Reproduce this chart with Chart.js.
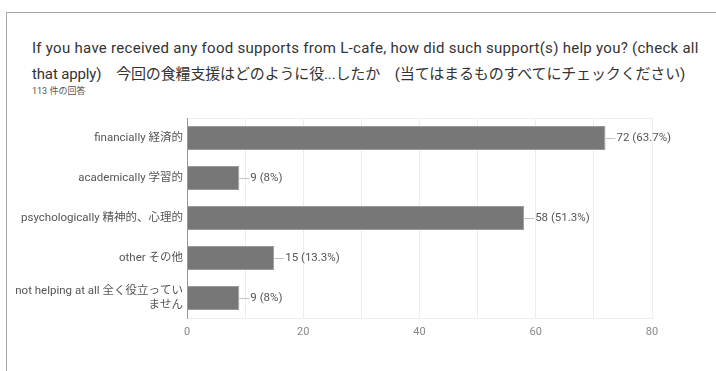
<!DOCTYPE html>
<html>
<head>
<meta charset="utf-8">
<script src="https://cdn.jsdelivr.net/npm/chart.js@4"></script>
<style>
  body { margin: 0; background: #fff; font-family: Roboto, "Noto Sans CJK JP", sans-serif; }
  #wrap { position: relative; width: 716px; height: 371px; overflow: hidden; }
  #box { position: absolute; left: 6px; top: 12px; width: 760px; height: 420px; border: 1px solid #a8a8a8; }
  .title { position: absolute; left: 32px; font-size: 15px; color: #333; white-space: nowrap; }
  #sub { position: absolute; left: 32px; top: 84px; font-size: 9px; color: #555; }
  canvas { position: absolute; left: 0; top: 0; }
</style>
</head>
<body>
<div id="wrap">
  <div id="box"></div>
  <div class="title" style="top:39px; letter-spacing:0.28px">If you have received any food supports from L-cafe, how did such support(s) help you? (check all</div>
  <div class="title" style="top:62px; letter-spacing:-0.15px">that apply)　今回の食糧支援はどのように役...したか　(当てはまるものすべてにチェックください)</div>
  <div id="sub">113 件の回答</div>
  <canvas id="chart" width="716" height="371"></canvas>
</div>
<script>
// categories and answers
const categories = [
  "financially 経済的",
  "academically 学習的",
  "psychologically 精神的、心理的",
  "other その他",
  ["not helping at all 全く役立ってい", "ません"],
];
const counts = [72, 9, 58, 15, 9];
const percents = ["63.7%", "8%", "51.3%", "13.3%", "8%"];
const xTicks = [0, 20, 40, 60, 80];

// draws "—72 (63.7%)" after each bar
const valueLabels = {
  id: "valueLabels",
  afterDatasetsDraw(chart) {
    const ctx = chart.ctx;
    const meta = chart.getDatasetMeta(0);
    ctx.save();
    ctx.font = "11.5px Roboto, sans-serif";
    ctx.textBaseline = "middle";
    meta.data.forEach((bar, i) => {
      ctx.strokeStyle = "#c4c4c4";
      ctx.lineWidth = 1;
      ctx.beginPath();
      ctx.moveTo(bar.x, Math.round(bar.y) + 0.5);
      ctx.lineTo(bar.x + 10, Math.round(bar.y) + 0.5);
      ctx.stroke();
      ctx.fillStyle = "#555";
      ctx.fillText(counts[i] + " (" + percents[i] + ")", bar.x + 11, bar.y);
    });
    ctx.restore();
  },
};

const ctx = document.getElementById("chart").getContext("2d");
new Chart(ctx, {
  type: "bar",
  data: {
    labels: categories,
    datasets: [
      {
        data: counts,
        backgroundColor: "#777777",
        borderColor: "#9a9a9a",
        borderWidth: 1,
        borderSkipped: "left",
        barPercentage: 0.6,
        categoryPercentage: 1,
      },
    ],
  },
  options: {
    indexAxis: "y",
    responsive: false,
    animation: false,
    layout: { padding: { top: 118, right: 64, bottom: 0, left: 0 } },
    plugins: { legend: { display: false }, tooltip: { enabled: false } },
    scales: {
      x: {
        min: xTicks[0],
        max: xTicks[xTicks.length - 1],
        ticks: {
          stepSize: 10,
          callback: (v) => (xTicks.includes(v) ? v : ""),
          color: "#888",
          font: { size: 11, family: "Roboto" },
          padding: 8,
        },
        grid: { color: "#eeeeee", tickLength: 0, drawTicks: false },
        border: { color: "#eeeeee" },
        afterFit: (scale) => { scale.height = 53; },
      },
      xTop: {
        position: "top",
        min: 0,
        max: 80,
        ticks: { display: false },
        grid: { display: false },
        border: { color: "#eeeeee" },
        afterFit: (scale) => { scale.height = 0; },
      },
      y: {
        ticks: {
          color: "#555",
          font: { size: 11.5, family: "Roboto, 'Noto Sans CJK JP'" },
          padding: 4,
        },
        grid: { display: false, drawTicks: false },
        border: { color: "#999", z: 1 },
        afterFit: (scale) => { scale.width = 187; },
      },
    },
  },
  plugins: [valueLabels],
});
</script>
</body>
</html>
